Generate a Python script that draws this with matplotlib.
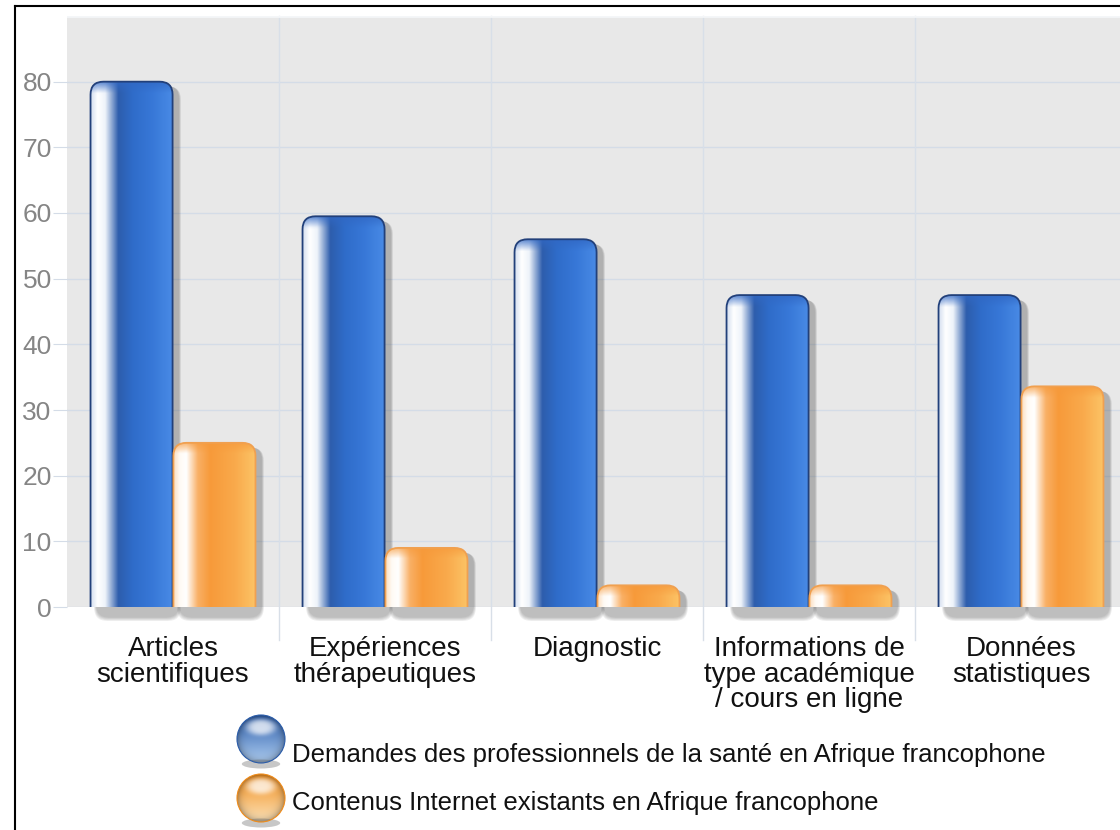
import numpy as np
import matplotlib.pyplot as plt
from matplotlib.patches import FancyBboxPatch, Circle, Ellipse
from matplotlib.colors import LinearSegmentedColormap, to_rgb

# données
categories = ["Articles\nscientifiques", "Expériences\nthérapeutiques", "Diagnostic",
              "Informations de\ntype académique\n/ cours en ligne", "Données\nstatistiques"]
demandes = [80, 59.5, 56, 47.5, 47.5]
contenus = [25, 9, 3.3, 3.3, 33.6]
series_names = ["Demandes des professionnels de la santé en Afrique francophone",
                "Contenus Internet existants en Afrique francophone"]
yticks = [0, 10, 20, 30, 40, 50, 60, 70, 80]

plt.rcParams['font.family'] = ['Liberation Sans', 'DejaVu Sans']

W, H = 1120, 830
fig = plt.figure(figsize=(W / 100, H / 100), dpi=100)
fig.patch.set_facecolor('white')

# axes a bit wider than the picture, the last column is cut on the right
ax = fig.add_axes([67 / W, 1 - 607 / H, (1127 - 67) / W, (607 - 16) / H])
ax.set_facecolor('#e8e8e8')
ymax = 90
ax.set_xlim(-0.5, len(categories) - 0.5)
ax.set_ylim(0, ymax)

# pixel size of one data unit, used for rounded tops
px_x = (1127 - 67) / len(categories)
px_y = (607 - 16) / ymax
rad = 13
rx, ry = rad / px_x, rad / px_y

blue_stops = [(0, '#d6e0f0'), (0.08, '#ffffff'), (0.17, '#eef3fa'), (0.33, '#2d5dac'),
              (0.5, '#2f6cc9'), (0.75, '#3878d8'), (1, '#4a8ce6')]
orange_stops = [(0, '#fbdcbc'), (0.08, '#fffaf4'), (0.16, '#ffffff'), (0.3, '#f9b066'),
                (0.45, '#f79a3a'), (0.75, '#f9aa4c'), (1, '#fcc466')]


def bar_image(stops, top_col, val, n=200):
    cmap = LinearSegmentedColormap.from_list('g', stops)
    row = cmap(np.linspace(0, 1, 256))[:, :3]
    ys = np.linspace(val, -ry, n)          # top row first
    d = (val - ys) * px_y                  # pixels from the top
    f = np.clip(1 - d / 11, 0, 1)[:, None, None] * 0.75
    img = row[None, :, :] * (1 - f) + np.array(to_rgb(top_col)) * f
    return img


def draw_bar(x0, w, val, stops, edge, top_col):
    # soft shadow, right and under the bar
    for k in range(5):
        g = (k + 1) * 1.6
        sh = FancyBboxPatch((x0 + (6 - g * 0.3) / px_x, -(10 + g * 0.5) / px_y),
                            w + g * 0.6 / px_x, val + (6 + g * 0.4) / px_y,
                            boxstyle=f"round,pad=0,rounding_size={rx}",
                            mutation_aspect=ry / rx, facecolor='#404040',
                            edgecolor='none', alpha=0.075, zorder=2, clip_on=False)
        ax.add_patch(sh)
    p = FancyBboxPatch((x0, -ry), w, val + ry,
                       boxstyle=f"round,pad=0,rounding_size={rx}",
                       mutation_aspect=ry / rx, facecolor='none',
                       edgecolor=edge, lw=1.3, zorder=4)
    ax.add_patch(p)
    im = ax.imshow(bar_image(stops, top_col, val), extent=[x0, x0 + w, -ry, val],
                   aspect='auto', interpolation='bilinear', zorder=3)
    im.set_clip_path(p)


bw = 0.387
xs = np.arange(len(categories))
for i in xs:
    draw_bar(i - bw - 0.002, bw, demandes[i], blue_stops, '#22407a', '#3168c4')
    draw_bar(i + 0.002, bw, contenus[i], orange_stops, '#f0a050', '#f69a3c')

ax.set_xlim(-0.5, len(categories) - 0.5)
ax.set_ylim(0, ymax)
ax.set_aspect('auto')

# grid
ax.set_yticks(yticks)
ax.grid(axis='y', color='#d4dce7', lw=1, zorder=1)
ax.set_axisbelow(True)
for i in xs[:-1]:
    ax.plot([i + 0.5, i + 0.5], [-5, ymax], color='#d8dfe8', lw=1, zorder=1, clip_on=False)
ax.axhline(ymax, color='#f4f6f8', lw=2, zorder=1)

for s in ax.spines.values():
    s.set_visible(False)
ax.tick_params(axis='y', length=10, color='#d4dce7', labelcolor='#858585',
               labelsize=19, pad=1)
ax.set_xticks(xs)
ax.set_xticklabels(categories)
ax.tick_params(axis='x', length=0, labelsize=20, pad=21, labelcolor='#111111')
for t in ax.get_xticklabels():
    t.set_linespacing(0.97)

# legend, drawn in pixel space
deco = fig.add_axes([0, 0, 1, 1])
deco.set_xlim(0, W)
deco.set_ylim(H, 0)
deco.axis('off')
deco.patch.set_alpha(0)


def sphere(dark, light, n=160):
    yy, xx = np.mgrid[-1:1:n * 1j, -1:1:n * 1j]
    t = ((yy + 1) / 2)[..., None]
    base = np.array(to_rgb(dark)) * (1 - t) + np.array(to_rgb(light)) * t
    r = np.sqrt(xx ** 2 + yy ** 2)
    base = base * (1 - 0.3 * np.clip(r, 0, 1)[..., None] ** 6)
    hl = np.exp(-(((xx / 0.62) ** 2 + ((yy + 0.5) / 0.34) ** 2) ** 2))[..., None]
    img = base * (1 - 0.75 * hl) + 0.75 * hl
    return np.clip(img, 0, 1)


# (label, dark, light, sphere centre y, text baseline y)
legend_rows = [(series_names[0], '#2a5caa', '#b0cff2', 739, 762),
               (series_names[1], '#f08c1a', '#fde4bb', 798, 810)]
for name, dark, light, cy, base_y in legend_rows:
    cx, r = 261, 24
    deco.add_patch(Ellipse((cx, cy + r + 1), 2 * r * 0.8, 9, facecolor='#606060',
                           alpha=0.35, edgecolor='none'))
    c = Circle((cx, cy), r, facecolor='none', edgecolor=dark, lw=0.8)
    deco.add_patch(c)
    im = deco.imshow(sphere(dark, light), extent=[cx - r, cx + r, cy + r, cy - r],
                     interpolation='bilinear')
    im.set_clip_path(c)
    deco.text(292, base_y, name, fontsize=18.5, va='baseline', ha='left', color='#111111')

deco.set_xlim(0, W)
deco.set_ylim(H, 0)
deco.set_aspect('auto')

# frame of the original picture (top and left)
deco.plot([15, 15], [6, H], color='black', lw=1.5)
deco.plot([15, W], [6, 6], color='black', lw=1.5)

fig.savefig('out.png', dpi=100)
